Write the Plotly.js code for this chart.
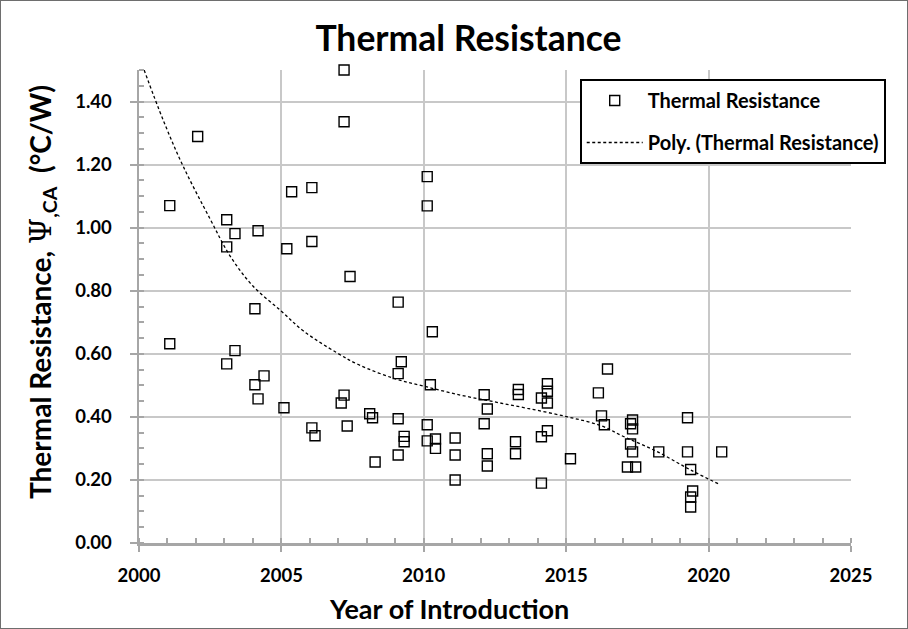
<!DOCTYPE html>
<html>
<head>
<meta charset="utf-8">
<script src="https://cdn.plot.ly/plotly-3.0.1.min.js"></script>
<style>
  html, body { margin: 0; padding: 0; background: #fff; }
  #chart { width: 906px; height: 627px; border: 1px solid #6e6e6e; }
</style>
</head>
<body>
<div id="chart"></div>
<script>
// Measured data points (year of introduction, thermal resistance °C/W)
const years = [
  2001.08, 2001.08,
  2002.06,
  2003.08, 2003.08, 2003.08,
  2003.37, 2003.37,
  2004.07, 2004.07,
  2004.18, 2004.18,
  2004.39,
  2005.09, 2005.19, 2005.36,
  2006.07, 2006.07, 2006.07, 2006.18,
  2007.10, 2007.20, 2007.20, 2007.20, 2007.31, 2007.41,
  2008.10, 2008.20, 2008.29,
  2009.10, 2009.10, 2009.10, 2009.10, 2009.21, 2009.31, 2009.31,
  2010.12, 2010.12, 2010.12, 2010.12, 2010.23, 2010.30, 2010.41, 2010.41,
  2011.10, 2011.10, 2011.10,
  2012.12, 2012.12, 2012.23, 2012.23, 2012.23,
  2013.22, 2013.22, 2013.32, 2013.32,
  2014.13, 2014.13, 2014.13, 2014.34, 2014.34, 2014.34, 2014.34,
  2015.15,
  2016.13, 2016.24, 2016.34, 2016.45,
  2017.15, 2017.26, 2017.26, 2017.33, 2017.33, 2017.33, 2017.44,
  2018.25,
  2019.26, 2019.26, 2019.37, 2019.37, 2019.37, 2019.44,
  2020.46
];
const resistance = [
  1.070, 0.632,
  1.289,
  1.025, 0.939, 0.568,
  0.981, 0.610,
  0.743, 0.502,
  0.990, 0.457,
  0.530,
  0.429, 0.933, 1.114,
  1.127, 0.956, 0.365, 0.340,
  0.444, 1.500, 1.336, 0.469, 0.371, 0.845,
  0.410, 0.397, 0.257,
  0.764, 0.537, 0.394, 0.279, 0.575, 0.338, 0.321,
  1.162, 1.069, 0.375, 0.324, 0.502, 0.670, 0.330, 0.300,
  0.333, 0.279, 0.200,
  0.470, 0.378, 0.425, 0.283, 0.244,
  0.321, 0.283, 0.487, 0.471,
  0.460, 0.337, 0.190, 0.505, 0.481, 0.444, 0.356,
  0.267,
  0.476, 0.403, 0.375, 0.552,
  0.241, 0.378, 0.314, 0.390, 0.362, 0.289, 0.241,
  0.289,
  0.397, 0.289, 0.233, 0.146, 0.114, 0.165,
  0.289
];
// Polynomial trendline
const trendYears = [2000.18, 2000.85, 2001.56, 2002.50, 2003.20, 2004.00, 2005.00, 2005.78, 2006.95, 2007.70, 2008.95, 2010.02, 2011.29, 2012.46, 2013.64, 2015.05, 2016.22, 2017.03, 2018.21, 2019.38, 2020.38];
const trendValues = [1.500, 1.341, 1.193, 1.027, 0.910, 0.815, 0.735, 0.672, 0.603, 0.566, 0.522, 0.497, 0.469, 0.448, 0.427, 0.400, 0.372, 0.337, 0.289, 0.231, 0.186];

const xTicks = [2000, 2005, 2010, 2015, 2020, 2025];
const yTicks = [0, 0.2, 0.4, 0.6, 0.8, 1.0, 1.2, 1.4];

const FONT = 'Lato, "Open Sans", sans-serif';
const AXIS_GRAY = '#a6a6a6';
const GRID_GRAY = '#c8c8c8';

const traces = [
  {
    type: 'scatter', mode: 'markers',
    x: years, y: resistance,
    name: 'Thermal Resistance',
    legendgroup: 'a',
    cliponaxis: false,
    marker: { symbol: 'square-open', size: 10, color: '#000', line: { width: 1.4, color: '#000' } }
  },
  {
    type: 'scatter', mode: 'lines',
    x: trendYears, y: trendValues,
    name: 'Poly. (Thermal Resistance)',
    legendgroup: 'b',
    line: { color: '#000', width: 1.3, dash: '3px,2.5px', shape: 'spline', smoothing: 1 }
  }
];

const layout = {
  width: 906, height: 627,
  margin: { l: 138, r: 56, t: 69, b: 85 },
  paper_bgcolor: '#fff', plot_bgcolor: '#fff',
  font: { family: FONT, color: '#000' },
  showlegend: true,
  title: {
    text: '<b>Thermal Resistance</b>',
    font: { family: FONT, size: 35.5, color: '#000' },
    xref: 'container', x: 0.516, xanchor: 'center',
    yref: 'container', y: 0.94, yanchor: 'middle'
  },
  xaxis: {
    range: [2000, 2025],
    tickmode: 'array', tickvals: xTicks, ticktext: xTicks.map(String),
    tickfont: { family: FONT, size: 18.5, color: '#000', weight: 'bold' },
    ticks: 'outside', ticklen: 6, tickwidth: 2, tickcolor: AXIS_GRAY,
    ticklabelstandoff: 8,
    minor: { dtick: 1, ticks: 'inside', ticklen: 5, tickwidth: 2, tickcolor: AXIS_GRAY, showgrid: false },
    showline: true, linecolor: AXIS_GRAY, linewidth: 2.5,
    showgrid: true, gridcolor: GRID_GRAY, gridwidth: 2,
    zeroline: false, fixedrange: true
  },
  yaxis: {
    range: [0, 1.5],
    tickmode: 'array', tickvals: yTicks, ticktext: yTicks.map(v => v.toFixed(2)),
    tickfont: { family: FONT, size: 18.5, color: '#000', weight: 'bold' },
    ticks: 'outside', ticklen: 7, tickwidth: 2, tickcolor: AXIS_GRAY,
    ticklabelstandoff: 14,
    minor: { dtick: 0.05, ticks: 'inside', ticklen: 5, tickwidth: 2, tickcolor: AXIS_GRAY, showgrid: false },
    showline: true, linecolor: AXIS_GRAY, linewidth: 2.5,
    showgrid: true, gridcolor: GRID_GRAY, gridwidth: 2,
    zeroline: false, fixedrange: true
  },
  legend: {
    x: 0.619, xanchor: 'left', y: 0.981, yanchor: 'top',
    bgcolor: '#fff', bordercolor: '#000', borderwidth: 2,
    font: { family: FONT, size: 20, color: '#000', weight: 'bold' },
    traceorder: 'grouped', tracegroupgap: 13,
    itemwidth: 56
  },
  annotations: [
    {
      text: '<b>Year of Introduction</b>',
      xref: 'paper', yref: 'paper',
      x: (449 - 139) / 712, y: -(608 - 543) / 473,
      xanchor: 'center', yanchor: 'middle', showarrow: false,
      font: { family: FONT, size: 27, color: '#000' }
    },
    {
      text: '<b>Thermal Resistance, </b><span style="font-family:\'DejaVu Serif\', serif;font-weight:normal;font-size:30px">Ψ</span><sub><b>,CA</b></sub><b>  (°C/W)</b>',
      xref: 'paper', yref: 'paper',
      x: (42 - 139) / 712, y: (543 - 292) / 473,
      xanchor: 'center', yanchor: 'middle', textangle: -90, showarrow: false,
      font: { family: FONT, size: 28, color: '#000' }
    }
  ]
};

Plotly.newPlot('chart', traces, layout, { displayModeBar: false, staticPlot: true });
</script>
</body>
</html>
